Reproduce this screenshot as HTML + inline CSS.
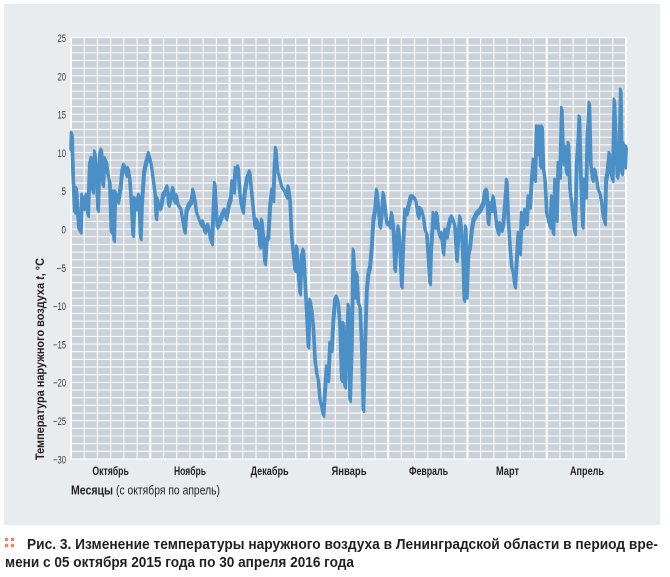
<!DOCTYPE html>
<html><head><meta charset="utf-8">
<style>
html,body{margin:0;padding:0;background:#fff;}
svg{display:block;}
text{font-family:"Liberation Sans","DejaVu Sans",sans-serif;}
</style></head>
<body>
<svg width="670" height="577" viewBox="0 0 670 577" xmlns="http://www.w3.org/2000/svg">
<rect x="0" y="0" width="670" height="577" fill="#ffffff"/>
<rect x="4" y="4" width="656" height="521" fill="#e9ecef"/>
<rect x="71" y="37.5" width="555" height="421.5" fill="#cbd1d8"/>
<g id="grid"></g>
<script>
(function(){
 var ns="http://www.w3.org/2000/svg";
 var g=document.getElementById('grid');
 function ln(x1,y1,x2,y2,w,op){var l=document.createElementNS(ns,'line');l.setAttribute('x1',x1);l.setAttribute('y1',y1);l.setAttribute('x2',x2);l.setAttribute('y2',y2);l.setAttribute('stroke','#ffffff');l.setAttribute('stroke-width',w);if(op)l.setAttribute('stroke-opacity',op);g.appendChild(l);}
 for(var i=0;i<=55;i++){var y=37.5+i*421.5/55;ln(71,y,626,y,1.1,0.9);}
 for(var j=0;j<=42;j++){var x=71+j*555/42;ln(x,37.5,x,459,(j%6==0)?2:1.1,(j%6==0)?1:0.9);}
})();
</script>
<rect x="71" y="37.5" width="555" height="421.5" fill="none" stroke="#ffffff" stroke-width="1.2"/>

<defs>
<polyline id="ser" fill="none" stroke-linejoin="round" stroke-linecap="round" points="
71,150 71.5,133 72,135 73,175 74.7,211.7 76.3,188.3 78.7,228.3 80.7,231.7 82,195 84,208.3 86.3,195 88,215 89.7,165 91.3,158.3 93,191.7 94.7,151.7 96.3,171.7 98,210 99.7,155 101.3,150 103,185 104.7,158.3 106.3,161.7 108,175 109.7,181.7 111.3,231.7 113,191.7 114,240 115.3,191.7 118,201.7 120.7,186.7 122,171.7 124,165 126.3,175 128,168.3 129.7,178.3 131.3,201.7 133,235 134.7,198.3 136.3,208.3 138.7,195 140.7,238.3 142,201.7 144,171.7 146.3,161.7 148.7,153.3 151.3,165 153,178.3 155.3,195 156.3,218.3 157.3,198.3 159.7,208.3 161.3,205 163,195 165.3,191.7 167.3,186.7 168.7,205 171.3,195 173,188.3 174.7,201.7 176.3,195 178,205 180.7,208.3 183,221.7 184.7,231.7 186.3,211.7 188.7,205 191.3,201.7 193,190 194.7,198.3 196.3,211.7 198.7,218.3 201.3,225 203,221.7 204.7,231.7 208,225 210.7,240 212,243.3 213.3,211.7 214.7,183.3 216.3,211.7 217.3,226.7 219.7,221.7 222,215 224.7,210 226.3,218.3 228.7,205 230.7,198.3 232,181.7 234,191.7 235.3,168.3 236.7,175 238,166.7 239.7,191.7 241.3,205 243,211.7 244.7,191.7 247,178.3 249.7,171.7
250.7,183.3 252.7,203.3 255,226.7 256.7,220 258.3,223.3 260,246.7 261.7,220 263.3,236.7 265,263.3 266.7,240 268.3,236.7 270,206.7 271.7,190 273.3,200 274.3,170 275.7,148.3 277.3,170 279.3,176.7 281.7,186.7 284,190 286.7,196.7 288.3,186.7 290,200 291.7,236.7 293.3,253.3 295,270 296.7,246.7 298.3,273.3 300,293.3 301.7,256.7 303.3,250 305,280 306.7,313.3 308.3,346.7 310,300 311.7,310 313.3,326.7 315,360 316.7,373.3 318.3,380 320,400 321.7,406.7 323.3,415 325,390 326.7,366.7 328.3,380 330,343.3 331.7,350 333.3,320 335,300 336.7,296.7 338.3,303.3 340,326.7 341.7,380 343.3,323.3 345,386.7 346.7,346.7 348.3,305 350,400 351.7,346.7 353.3,250 355,296.7 356.7,273.3 358.3,303.3 360,306.7 361.7,346.7 363.3,410 365,346.7 366.7,290 368.3,273.3 370,266.7 371.7,246.7 373.3,220 375,210 376.7,190 378.3,206.7 380,226.7 381.7,213.3 383.3,193.3 385,206.7 386.7,223.3 388.3,223.3 390,226.7 391.7,213.3 393.3,226.7 395,270 396.7,240 398.3,226.7 400,250 401.7,286.7 403.3,240 405,210 406.7,213.3 408.3,206.7 410.7,196.7 413.3,196.7 415.7,200
416.7,206.7 418.3,216.7 420,208.3 421.7,210 423.3,216.7 425,230 426.7,233.3 428.3,256.7 430,283.3 431,250 432.3,230 433.3,213.3 435,226.7 436.7,213.3 438.3,230 440,236.7 441.7,233.3 443.3,253.3 445,230 446.7,236.7 448.3,226.7 450,220 451.7,216.7 453.3,220 455,226.7 456.7,260 458.3,236.7 460,216.7 461.7,233.3 463.3,266.7 464.3,300 465.7,226.7 466.7,296.7 468.3,253.3 470,246.7 471.7,230 473.3,220 475,216.7 476.7,213.3 480,210 481.7,206.7 483.3,203.3 485,191.7 486.7,190 488.3,223.3 490,203.3 491.7,210 493.3,196.7 495,210 496.7,226.7 498.3,233.3 500,223.3
501.7,230 503.3,223.3 505,203.3 506.7,180 508.3,220 510,246.7 511.7,266.7 513.3,273.3 515,286.7 516.7,260 518.3,233.3 520,253.3 521.7,213.3 523.3,226.7 525,210 526.7,223.3 528.3,196.7 530,206.7 531.7,180 533.3,160 535,180 536.7,126.7 538.3,153.3 539.3,126.7 540.7,166.7 542,126.7 543.3,166.7 545,180 546.7,213.3 548.3,220 550,226.7 551.7,196.7 553.3,233.3 555,180 556.7,220 558.3,163.3 560,176.7 561.7,108.3 563.3,163.3 565,146.7 566.7,173.3 568.3,143.3 570,190 571.7,203.3 573.3,220 575,233.3 576.7,163.3 578.3,140 579.3,116.7 580.7,173.3 582.7,226.7 584,180 586,196.7 587.3,140 589.3,103.3 590.7,163.3 592.7,180 595,170 596.7,180 598.3,190 600,193.3 601.7,203.3 603.3,216.7 605,223.3 606,180 607.3,173.3 609.3,153.3 611,173.3 612.7,180 614.3,100 616,146.7 617.3,176.7 619,163.3 620.7,90 622,173.3 623.3,143.3 625,166.7 626,146.7"/>
</defs>
<use href="#ser" stroke="#4a90c6" stroke-width="2.6" transform="translate(0.7,1.8)"/>
<use href="#ser" stroke="#4a90c6" stroke-width="2.6" transform="translate(-0.5,-1.2)"/>
<use href="#ser" stroke="#4a90c6" stroke-width="3"/>

<g fill="#3a3a3a" font-size="11" text-anchor="end">
<text x="66" y="42" textLength="8.5" lengthAdjust="spacingAndGlyphs">25</text>
<text x="66" y="80.3" textLength="8.5" lengthAdjust="spacingAndGlyphs">20</text>
<text x="66" y="118.6" textLength="8.5" lengthAdjust="spacingAndGlyphs">15</text>
<text x="66" y="156.9" textLength="8.5" lengthAdjust="spacingAndGlyphs">10</text>
<text x="66" y="195.2" textLength="4.5" lengthAdjust="spacingAndGlyphs">5</text>
<text x="66" y="233.5" textLength="4.5" lengthAdjust="spacingAndGlyphs">0</text>
<text x="66" y="271.8" textLength="9.5" lengthAdjust="spacingAndGlyphs">−5</text>
<text x="66" y="310.1" textLength="13" lengthAdjust="spacingAndGlyphs">−10</text>
<text x="66" y="348.4" textLength="13" lengthAdjust="spacingAndGlyphs">−15</text>
<text x="66" y="386.7" textLength="13" lengthAdjust="spacingAndGlyphs">−20</text>
<text x="66" y="425" textLength="13" lengthAdjust="spacingAndGlyphs">−25</text>
<text x="66" y="463.3" textLength="13" lengthAdjust="spacingAndGlyphs">−30</text>
</g>

<g fill="#231f20" font-size="11.5" font-weight="bold" text-anchor="middle">
<text x="110.6" y="475" textLength="36.5" lengthAdjust="spacingAndGlyphs">Октябрь</text>
<text x="190" y="475" textLength="32" lengthAdjust="spacingAndGlyphs">Ноябрь</text>
<text x="269.6" y="475" textLength="38" lengthAdjust="spacingAndGlyphs">Декабрь</text>
<text x="349" y="475" textLength="35" lengthAdjust="spacingAndGlyphs">Январь</text>
<text x="428.5" y="475" textLength="39" lengthAdjust="spacingAndGlyphs">Февраль</text>
<text x="507.5" y="475" textLength="23" lengthAdjust="spacingAndGlyphs">Март</text>
<text x="587" y="475" textLength="34" lengthAdjust="spacingAndGlyphs">Апрель</text>
</g>

<text x="71" y="494.3" font-size="13" fill="#231f20" font-weight="bold" textLength="42" lengthAdjust="spacingAndGlyphs">Месяцы</text>
<text x="116" y="494.3" font-size="13" fill="#231f20" textLength="104" lengthAdjust="spacingAndGlyphs">(с октября по апрель)</text>

<g transform="translate(44,359) rotate(-90)">
<text x="0" y="0" font-size="12" font-weight="bold" fill="#231f20" text-anchor="middle" textLength="202" lengthAdjust="spacingAndGlyphs">Температура наружного воздуха <tspan font-style="italic">t</tspan>, °C</text>
</g>

<g fill="#e8866a">
<circle cx="6.5" cy="539.5" r="1.9"/><circle cx="12.5" cy="539.5" r="1.9"/>
<circle cx="6.5" cy="545.5" r="1.9"/><circle cx="12.5" cy="545.5" r="1.9"/>
</g>
<text x="27" y="549" font-size="15" font-weight="bold" fill="#231f20" textLength="631" lengthAdjust="spacingAndGlyphs">Рис. 3. Изменение температуры наружного воздуха в Ленинградской области в период вре-</text>
<text x="5" y="567" font-size="15" font-weight="bold" fill="#231f20" textLength="349" lengthAdjust="spacingAndGlyphs">мени с 05 октября 2015 года по 30 апреля 2016 года</text>
</svg>
</body></html>
